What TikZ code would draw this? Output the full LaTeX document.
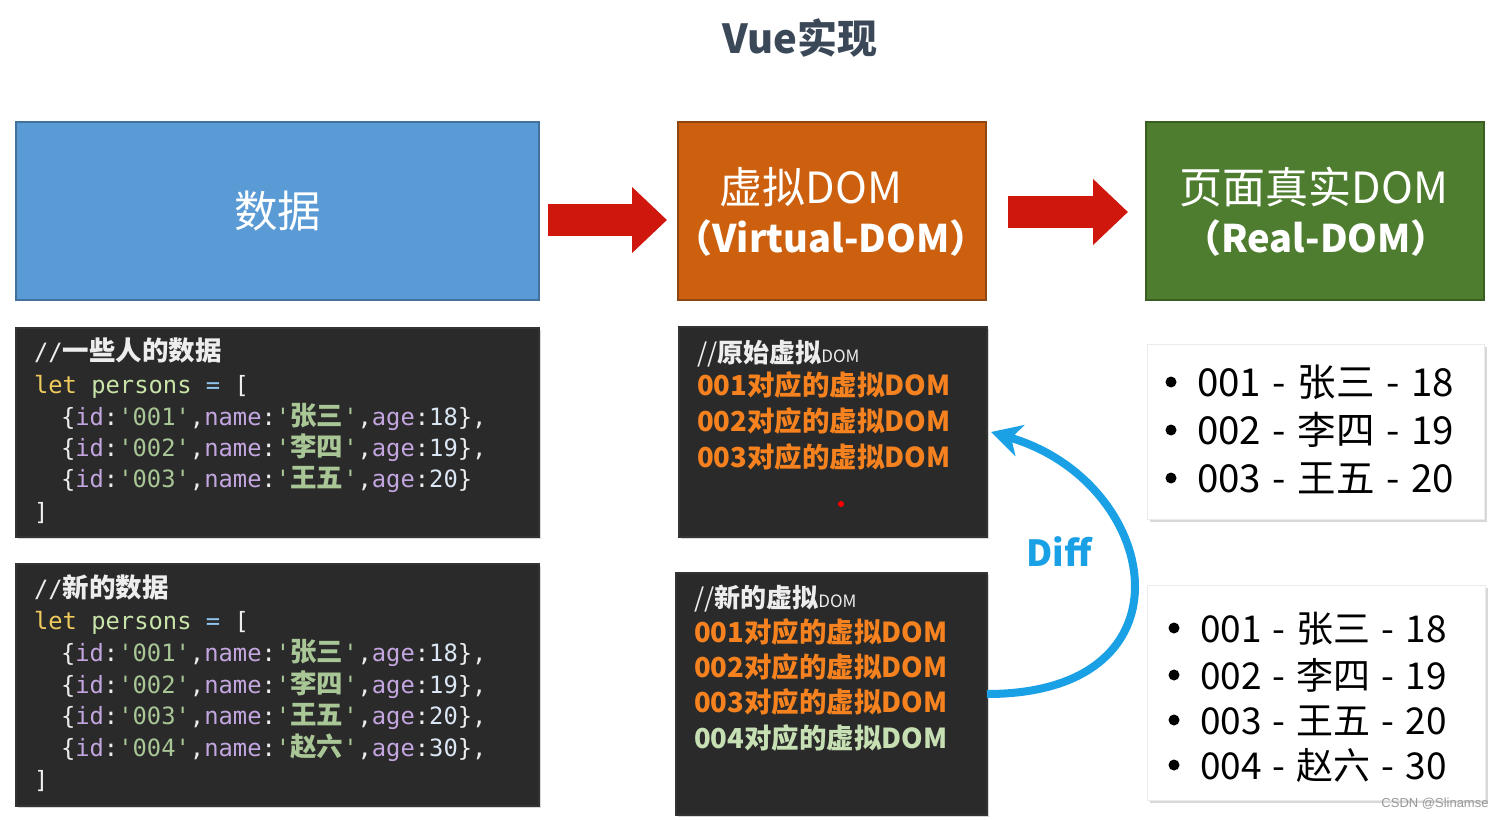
\documentclass[tikz,border=0pt]{standalone}
\usepackage{fontspec}
\usetikzlibrary{arrows.meta,shadows}
\newfontfamily\cjk{Noto Sans CJK SC}
\newfontfamily\mono{DejaVu Sans Mono}[Ligatures=TeXOff]
\newfontfamily\arialf{Liberation Sans}
\newcommand\fsz[1]{\fontsize{#1}{#1}\selectfont}
\newcommand\zh[1]{{\cjk\bfseries\fsz{26.5}#1}}
\newcommand\lsep{\hspace{0.3em}-\hspace{0.3em}}
\definecolor{cblue}{HTML}{5B9BD5}
\definecolor{cblueb}{HTML}{41719C}
\definecolor{corange}{HTML}{CC600F}
\definecolor{coranb}{HTML}{8F4510}
\definecolor{cgreen}{HTML}{4F7D30}
\definecolor{cgreenb}{HTML}{3B5E23}
\definecolor{cred}{HTML}{D0170E}
\definecolor{cdark}{HTML}{2A2A2A}
\definecolor{cdiff}{HTML}{19A0E5}
\definecolor{ctitle}{HTML}{3B4858}
\definecolor{corg}{HTML}{F5821F}
\definecolor{cgrf}{HTML}{C6E0B4}
\definecolor{clet}{HTML}{EFCB5E}
\definecolor{cvar}{HTML}{C9E4A8}
\definecolor{cop}{HTML}{8FC4EE}
\definecolor{ckey}{HTML}{C3A6E0}
\definecolor{cstr}{HTML}{A9C796}
\definecolor{cnum}{HTML}{DCE7F5}
\definecolor{ctext}{HTML}{EDEDED}
\newcommand\prow[4]{\{\textcolor{ckey}{id}:\textcolor{cstr}{'#1'},\textcolor{ckey}{name}:\textcolor{cstr}{'\zh{#2}'},\textcolor{ckey}{age}:\textcolor{cnum}{#3}\}#4}
\begin{document}
\begin{tikzpicture}[x=1pt,y=-1pt,
  every node/.style={inner sep=0pt,outer sep=0pt},
  topbox/.style={draw,line width=2pt},
  darkbox/.style={fill=cdark,draw=black!80,line width=1.5pt,drop shadow={opacity=0.3,shadow xshift=2pt,shadow yshift=-2pt}},
  whitebox/.style={fill=white,draw=black!8,line width=0.5pt,drop shadow={opacity=0.3,shadow xshift=3pt,shadow yshift=-3pt}},
  boxlbl/.style={font=\cjk\fsz{43},text=white},
  boxlblb/.style={font=\cjk\bfseries\fsz{38},text=white},
  codeln/.style={anchor=base west,font=\mono\fsz{23.8},text=ctext},
  vcom/.style={anchor=base west,font=\cjk\fsz{26},text=ctext},
  vln/.style={anchor=base west,font=\cjk\bfseries\fsz{27.5},text=corg},
  li/.style={anchor=base west,font=\cjk\fsz{38.5},text=black},
  lib/.style={anchor=base west,font=\cjk\fsz{37},text=black},
  redarrow/.style={draw=cred,line width=32pt,-{Triangle[length=35pt,width=64pt]}},
  diffarrow/.style={draw=cdiff,line width=8pt,-{Stealth[length=30pt,width=32pt,inset=9pt]}}]
\fill[white] (0,0) rectangle (1504,819);
\useasboundingbox (0,0) rectangle (1504,819);

% title
\node[font=\cjk\bfseries\fsz{40},text=ctitle] (title) at (800,38) {Vue实现};

% top boxes
\node[topbox,fill=cblue,draw=cblueb,minimum width=523,minimum height=178,font=\cjk\fsz{43.5},text=white] (data) at (277.5,211) {数据};
\node[topbox,fill=corange,draw=coranb,minimum width=308,minimum height=178] (vdom) at (832,211) {};
\node[topbox,fill=cgreen,draw=cgreenb,minimum width=338,minimum height=178] (real) at (1315,211) {};
\node[boxlbl] (vdomA) at (811,187) {虚拟DOM};
\node[boxlblb] (vdomB) at (831,238) {（Virtual-DOM）};
\node[boxlbl] (realA) at (1314,187) {页面真实DOM};
\node[boxlblb] (realB) at (1316,238) {（Real-DOM）};

\draw[redarrow] ([shift={(9,9)}]data.east) -- ([shift={(-11,9)}]vdom.west);
\draw[redarrow] ([shift={(22,1)}]vdom.east) -- ([shift={(-18,1)}]real.west);

% code boxes
\node[darkbox,minimum width=523,minimum height=209] (codeA) at (277.5,432.5) {};
\node[darkbox,minimum width=523,minimum height=242] (codeB) at (277.5,685) {};
\node[codeln] (a1) at (34,360) {//\zh{一些人的数据}};
\node[codeln] (a2) at (34,393) {\textcolor{clet}{let} \textcolor{cvar}{persons} \textcolor{cop}{=} [};
\node[codeln] (a3) at (61,425) {\prow{001}{张三}{18}{,}};
\node[codeln] (a4) at (61,456) {\prow{002}{李四}{19}{,}};
\node[codeln] (a5) at (61,487) {\prow{003}{王五}{20}{}};
\node[codeln] (a6) at (34,520) {]};
\node[codeln] (b1) at (34,597) {//\zh{新的数据}};
\node[codeln] (b2) at (34,629) {\textcolor{clet}{let} \textcolor{cvar}{persons} \textcolor{cop}{=} [};
\node[codeln] (b3) at (61,661) {\prow{001}{张三}{18}{,}};
\node[codeln] (b4) at (61,693) {\prow{002}{李四}{19}{,}};
\node[codeln] (b5) at (61,724) {\prow{003}{王五}{20}{,}};
\node[codeln] (b6) at (61,756) {\prow{004}{赵六}{30}{,}};
\node[codeln] (b7) at (34,788) {]};

% virtual DOM boxes
\node[darkbox,minimum width=308,minimum height=210] (vold) at (833,432) {};
\node[darkbox,minimum width=311,minimum height=242] (vnew) at (831.5,694) {};
\node[vcom] (v1) at (697,362) {//{\bfseries 原始虚拟}{\fsz{17}DOM}};
\node[vln] (v2) at (697,395) {001对应的虚拟DOM};
\node[vln] (v3) at (697,431) {002对应的虚拟DOM};
\node[vln] (v4) at (697,467) {003对应的虚拟DOM};
\fill[red] (841,504) circle (3);
\node[vcom] (w1) at (694,607) {//{\bfseries 新的虚拟}{\fsz{17}DOM}};
\node[vln] (w2) at (694,642) {001对应的虚拟DOM};
\node[vln] (w3) at (694,677) {002对应的虚拟DOM};
\node[vln] (w4) at (694,712) {003对应的虚拟DOM};
\node[vln,text=cgrf] (w5) at (694,748) {004对应的虚拟DOM};

% diff arrow
\draw[diffarrow] (vnew.east) .. controls +(213,0) and +(170,50) .. ([xshift=4]vold.east);
\node[font=\cjk\bfseries\fsz{36},text=cdiff] (difflbl) at (1059,552) {Diff};

% real DOM lists
\node[whitebox,minimum width=337,minimum height=175] (rA) at (1315.5,431.5) {};
\node[whitebox,minimum width=338,minimum height=215] (rB) at (1316,692.5) {};
\fill (1171,382) circle (5.5);
\fill (1171,430) circle (5.5);
\fill (1171,478) circle (5.5);
\node[li] (r1) at (1197,396) {001\lsep 张三\lsep 18};
\node[li] (r2) at (1197,444) {002\lsep 李四\lsep 19};
\node[li] (r3) at (1197,492) {003\lsep 王五\lsep 20};
\fill (1174,628) circle (5.5);
\fill (1174,675) circle (5.5);
\fill (1174,720) circle (5.5);
\fill (1174,765) circle (5.5);
\node[lib] (s1) at (1200,642) {001\lsep 张三\lsep 18};
\node[lib] (s2) at (1200,689) {002\lsep 李四\lsep 19};
\node[lib] (s3) at (1200,734) {003\lsep 王五\lsep 20};
\node[lib] (s4) at (1200,779) {004\lsep 赵六\lsep 30};

\node[font=\arialf\fsz{13},text=black!40] (wm) at (1435,804) {CSDN @Slinamse};
\end{tikzpicture}
\end{document}
